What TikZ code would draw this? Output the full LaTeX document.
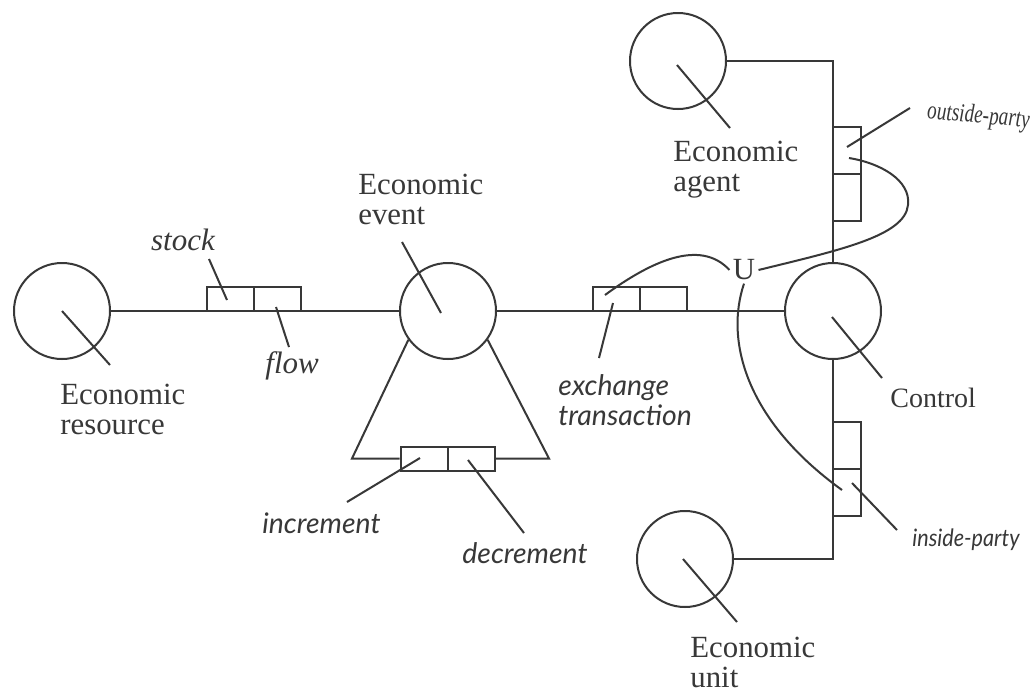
\documentclass[tikz,border=0pt]{standalone}
\usepackage{fontspec}
\setmainfont{Liberation Serif}
\newfontfamily\optfont{Lato}
\usetikzlibrary{calc}
\definecolor{ink}{HTML}{383838}
\begin{document}
\begin{tikzpicture}[x=0.5pt,y=-0.5pt,
  entity/.style={circle,draw=ink,line width=1pt,minimum size=48pt,inner sep=0pt},
  hcell/.style={rectangle,draw=ink,line width=1pt,minimum width=23.5pt,minimum height=12pt,inner sep=0pt},
  vcell/.style={rectangle,draw=ink,line width=1pt,minimum width=14pt,minimum height=23.5pt,inner sep=0pt},
  wire/.style={draw=ink,line width=1pt},
  leader/.style={draw=ink,line width=1pt},
  enttext/.style={text=ink,font=\fontsize{15.4}{15}\selectfont,align=left,inner sep=0pt},
  roletext/.style={text=ink,font=\fontsize{15.5}{15}\selectfont\itshape,inner sep=0pt},
  rolesans/.style={text=ink,font=\optfont\fontsize{14.2}{15}\selectfont\itshape,align=left,inner sep=0pt}
]
\fill[white] (0,0) rectangle (1030,692);
\useasboundingbox (0,0) rectangle (1030,692);

% entities
\node[entity] (res) at (62,311) {};
\node[entity] (evt) at (448,311) {};
\node[entity] (ctl) at (833,311) {};
\node[entity] (agt) at (678,61) {};
\node[entity] (unt) at (685,559) {};

% relationship boxes
\node[hcell] (stockL) at (230.5,299) {};
\node[hcell] (stockR) at (277.5,299) {};
\node[hcell] (exL) at (616.5,299) {};
\node[hcell] (exR) at (663,299) {};
\node[hcell] (incL) at (424,458.5) {};
\node[hcell] (incR) at (471,458.5) {};
\node[vcell] (outA) at (847,150.5) {};
\node[vcell] (outB) at (847,197.5) {};
\node[vcell] (inA) at (847,445.5) {};
\node[vcell] (inB) at (847,492.5) {};

% connecting lines
\coordinate (ctop) at (833,61);
\coordinate (cbot) at (833,559);
\coordinate (tl) at (352,458.5);
\coordinate (tr) at (549,458.5);
\draw[wire] (res) -- (evt);
\draw[wire] (evt) -- (ctl);
\draw[wire] (evt.-144) -- (tl) -- (incL.west);
\draw[wire] (incR.east) -- (tr) -- (evt.-36);
\draw[wire] (agt.east) -- (ctop) -- (ctl.north);
\draw[wire] (ctl.south) -- (cbot) -- (unt.east);

% union marker and its arcs
\node[enttext,inner sep=1.5pt] (u) at (744,270) {U};
\coordinate (exIn) at (605,295);
\coordinate (outIn) at (849,158);
\coordinate (inIn) at (842,490);
\coordinate (outBend) at (908,205);
\draw[wire] (exIn) .. controls (650,262) and (700,238) .. (u.west);
\draw[wire] (u.east) .. controls (840,250) and (905,236) .. (outBend)
  .. controls (911,180) and (880,163) .. (outIn);
\draw[wire] (u.south) .. controls (725,340) and (745,420) .. (inIn);

% labels
\node[enttext,anchor=west] (resL) at (60,409) {Economic\\resource};
\node[enttext,anchor=west] (evtL) at (358,199) {Economic\\event};
\node[enttext,anchor=west] (agtL) at (673,170) {Economic\\agent};
\node[enttext,anchor=west] (untL) at (690,662) {Economic\\unit};
\node[enttext,anchor=west,font=\fontsize{14}{15}\selectfont] (ctlL) at (890,398) {Control};
\node[roletext] (stockT) at (183,240) {stock};
\node[roletext,anchor=west] (flowT) at (265,366) {flow};
\node[rolesans,anchor=west] (exT) at (558,400) {exchange\\transaction};
\node[rolesans,anchor=west] (incT) at (262,523) {increment};
\node[rolesans,anchor=west] (decT) at (462,553) {decrement};
\node[roletext,anchor=west,font=\fontsize{13}{14}\selectfont\itshape,xscale=0.74,rotate=-4] (outT) at (927,112) {outside-party};
\node[rolesans,anchor=west,font=\optfont\fontsize{12}{13}\selectfont\itshape,xscale=0.9] (inT) at (912,540) {inside-party};

% leader lines from labels to their shapes
\coordinate (resP) at (110,365);
\coordinate (evtP) at (402,242);
\coordinate (evtQ) at (441,313);
\coordinate (agtP) at (677,65);
\coordinate (agtQ) at (730,128);
\coordinate (ctlP) at (832,317);
\coordinate (ctlQ) at (882,378);
\coordinate (untP) at (683,559);
\coordinate (untQ) at (737,622);
\coordinate (stP) at (209,259);
\coordinate (stQ) at (227,300);
\coordinate (flP) at (276,307);
\coordinate (flQ) at (289,347);
\coordinate (exP) at (613,303);
\coordinate (exQ) at (599,358);
\coordinate (incP) at (347,502);
\coordinate (incQ) at (420,458);
\coordinate (decP) at (468,460);
\coordinate (decQ) at (524,533);
\coordinate (outP) at (847,147);
\coordinate (outQ) at (910,108);
\coordinate (inP) at (852,483);
\coordinate (inQ) at (897,530);
\draw[leader] (res.center) -- (resP);
\draw[leader] (evtP) -- (evtQ);
\draw[leader] (agtP) -- (agtQ);
\draw[leader] (ctlP) -- (ctlQ);
\draw[leader] (untP) -- (untQ);
\draw[leader] (stP) -- (stQ);
\draw[leader] (flP) -- (flQ);
\draw[leader] (exP) -- (exQ);
\draw[leader] (incP) -- (incQ);
\draw[leader] (decP) -- (decQ);
\draw[leader] (outP) -- (outQ);
\draw[leader] (inP) -- (inQ);
\end{tikzpicture}
\end{document}
